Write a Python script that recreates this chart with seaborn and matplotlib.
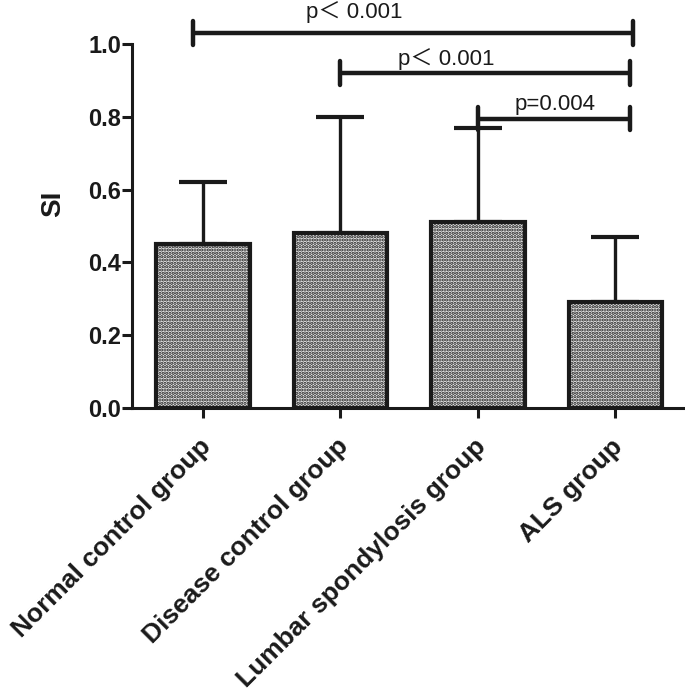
import matplotlib
matplotlib.use("Agg")
import matplotlib.pyplot as plt
from matplotlib.transforms import ScaledTranslation
import seaborn as sns
import pandas as pd

groups = ["Normal control group", "Disease control group",
          "Lumbar spondylosis group", "ALS group"]
si_mean = [0.45, 0.48, 0.51, 0.29]
si_upper = [0.62, 0.80, 0.77, 0.47]

# pairwise comparisons against the ALS group
comp_start = [-0.07, 1.0, 2.0]
comp_end = [3.13, 3.11, 3.11]
comp_y = [1.03, 0.92, 0.795]
comp_text = ["p\uff1c 0.001", "p\uff1c 0.001", "p=0.004"]
# where the p labels sit (x centre, baseline)
text_x = [1.1, 1.77, 2.56]
text_y = [1.071, 0.942, 0.819]

sns.set_style("ticks")
plt.rcParams["font.family"] = ["Liberation Sans", "Noto Sans CJK SC", "DejaVu Sans"]
plt.rcParams["hatch.linewidth"] = 1.6

df = pd.DataFrame({"group": groups, "SI": si_mean})

fig = plt.figure(figsize=(6.85, 6.97), dpi=100)
ax = fig.add_axes([0.1927, 0.4146, 0.804, 0.585])

sns.barplot(data=df, x="group", y="SI", color="#ebebeb", width=0.68,
            edgecolor="#1a1a1a", linewidth=3, errorbar=None, ax=ax, zorder=3)
for p in ax.patches:
    p.set_hatch(".....")

err = [u - m for u, m in zip(si_upper, si_mean)]
ax.errorbar(range(len(groups)), si_mean, yerr=[[0] * len(groups), err],
            fmt="none", ecolor="#1a1a1a", elinewidth=2.4, capsize=17,
            capthick=3, zorder=2)

for x0, x1, y in zip(comp_start, comp_end, comp_y):
    ax.plot([x0, x1], [y, y], color="#1a1a1a", lw=3.2, clip_on=False,
            solid_capstyle="butt")
    for xx in (x0, x1):
        ax.plot([xx, xx], [y - 0.032, y + 0.032], color="#1a1a1a", lw=3.2,
                clip_on=False, solid_capstyle="round")
for tx, ty, t in zip(text_x, text_y, comp_text):
    ax.text(tx, ty, t, ha="center", va="baseline", fontsize=16,
            color="#1a1a1a", clip_on=False)

ax.set_xlim(-0.516, 3.49)
ax.set_ylim(0, 1.12)
ax.set_yticks([0.0, 0.2, 0.4, 0.6, 0.8, 1.0])
ax.set_yticklabels(["0.0", "0.2", "0.4", "0.6", "0.8", "1.0"])
ax.spines["left"].set_bounds(0, 1.0)
for s in ("top", "right"):
    ax.spines[s].set_visible(False)
for s in ("left", "bottom"):
    ax.spines[s].set_linewidth(2.2)
    ax.spines[s].set_color("#1a1a1a")
ax.tick_params(axis="both", width=2.2, length=7, color="#1a1a1a",
               labelsize=17, pad=1, labelcolor="#1a1a1a")
ax.tick_params(axis="x", pad=18)
for lab in ax.get_yticklabels():
    lab.set_fontweight("bold")
ax.set_xticks(range(len(groups)))
ax.set_xticklabels(groups, rotation=45, ha="right", va="center",
                   rotation_mode="anchor", fontsize=19, fontweight="bold")
shift = ScaledTranslation(4 / 100, 0, fig.dpi_scale_trans)
for lab in ax.get_xticklabels():
    lab.set_transform(lab.get_transform() + shift)
ax.set_xlabel("")
ax.set_ylabel("SI", fontsize=20, fontweight="bold", labelpad=16,
              color="#1a1a1a")

fig.savefig("out.png", dpi=100)
